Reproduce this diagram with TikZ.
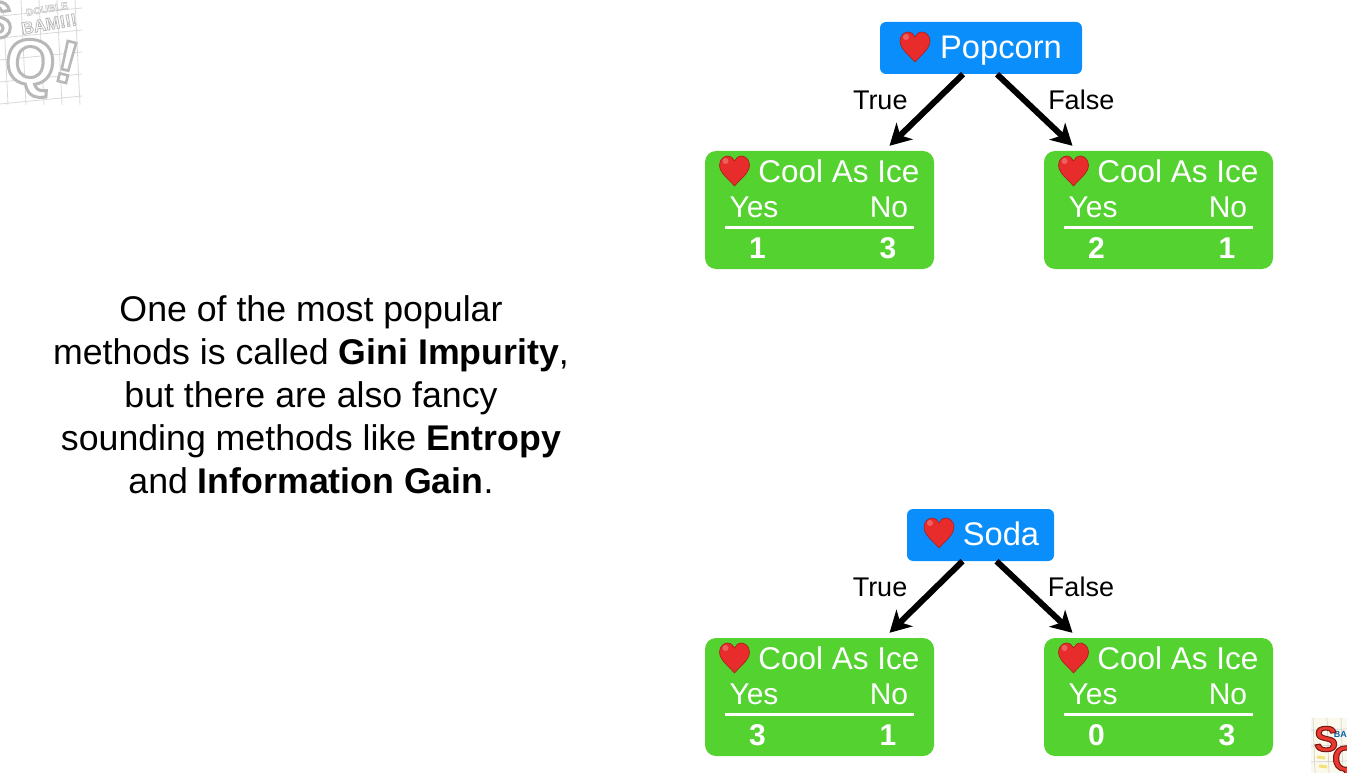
\documentclass[tikz,border=0pt]{standalone}
\usepackage{fontspec}
\setmainfont{Liberation Sans}
\usetikzlibrary{positioning}
\usetikzlibrary{calc}
\usetikzlibrary{arrows.meta}
\definecolor{rootblue}{RGB}{10,142,252}
\definecolor{leafgreen}{RGB}{84,210,48}
\definecolor{heartred}{RGB}{232,44,44}
\definecolor{logogray}{RGB}{190,190,190}
\definecolor{logopaper}{RGB}{250,249,236}
\definecolor{logored}{RGB}{236,56,46}
\definecolor{logoyellow}{RGB}{244,226,120}
\tikzset{
    rootbox/.style={fill=rootblue, rounded corners=6pt, minimum height=52pt, inner sep=0pt},
    leafbox/.style={fill=leafgreen, rounded corners=11pt, minimum width=229pt, minimum height=118pt, inner sep=0pt},
    roottext/.style={text=white, font=\fontsize{32.7}{33}\selectfont, inner sep=0pt},
    leaftext/.style={text=white, font=\fontsize{30}{30}\selectfont, inner sep=0pt},
    leaftitle/.style={text=white, font=\fontsize{31.5}{31.5}\selectfont, inner sep=0pt},
    leafnum/.style={text=white, font=\fontsize{30}{30}\selectfont\bfseries, inner sep=0pt},
    branch/.style={-{Stealth[length=21pt, width=23pt, inset=6pt]}, line width=6pt, black},
    branchtext/.style={font=\fontsize{27}{27}\selectfont, inner sep=0pt},
    logotext/.style={text=white, inner sep=0pt},
    heartmark/.pic={
        \fill[heartred, draw=heartred!70!black, line width=0.6pt]
            (0,15) .. controls (-6,8) and (-15,2) .. (-15,-6)
            .. controls (-15,-12) and (-10,-15) .. (-7,-15)
            .. controls (-3.5,-15) and (-1,-12.5) .. (0,-10)
            .. controls (1,-12.5) and (3.5,-15) .. (7,-15)
            .. controls (10,-15) and (15,-12) .. (15,-6)
            .. controls (15,2) and (6,8) .. (0,15) -- cycle;
        \fill[white, opacity=0.25] (-9,-10) circle (3);
    }
}
% leaf: name, centre, left count, right count
\newcommand*{\LeafBox}[4]{
    \node[leafbox] (#1) at (#2) {};
    \pic at ($(#1.center)+(-85,-39)$) {heartmark};
    \node[leaftitle] (#1title) at ($(#1.center)+(19.5,-39)$) {Cool As Ice};
    \node[leaftext] (#1yes) at ($(#1.center)+(-65.5,-3)$) {Yes};
    \node[leaftext] (#1no) at ($(#1.center)+(69.5,-3)$) {No};
    \draw[white, line width=3pt] ($(#1.center)+(-95,17)$) -- ($(#1.center)+(94,17)$);
    \node[leafnum] (#1left) at ($(#1.center)+(-62,38)$) {#3};
    \node[leafnum] (#1right) at ($(#1.center)+(68.5,38)$) {#4};
}
% outlined comic lettering: stroke width, stroke grey/rgb
\newcommand*{\StrokeText}[2]{\special{pdf:code 2 Tr #1 w #2 RG}}

\begin{document}
\begin{tikzpicture}[x=1pt, y=-1pt]
\useasboundingbox (0,0) rectangle (1347,773);

% Explanation
\node[align=center, inner sep=0pt, font=\fontsize{35.7}{43}\selectfont] (blurb) at (311,394.5) {One of the most popular\\
methods is called \textbf{Gini Impurity},\\
but there are also fancy\\
sounding methods like \textbf{Entropy}\\
and \textbf{Information Gain}.};

% Top tree
\node[rootbox, minimum width=202pt] (popcorn) at (981,48) {};
\pic at (915,47) {heartmark};
\node[roottext] (popcorntext) at (1001,51) {Popcorn};
\LeafBox{popleft}{819.5,210}{1}{3}
\LeafBox{popright}{1158.5,210}{2}{1}
\draw[branch] ($(popcorn.south)+(-18,0)$) -- ($(popleft.north)+(70,-5)$)
    node[midway, branchtext, xshift=-46pt, yshift=10pt] (poptrue) {True};
\draw[branch] ($(popcorn.south)+(16,0)$) -- ($(popright.north)+(-86,-5)$)
    node[midway, branchtext, xshift=46.5pt, yshift=10pt] (popfalse) {False};

% Bottom tree
\node[rootbox, minimum width=147pt] (soda) at (980.5,535) {};
\pic at (939,533) {heartmark};
\node[roottext] (sodatext) at (1001,534) {Soda};
\LeafBox{sodaleft}{819.5,697}{3}{1}
\LeafBox{sodaright}{1158.5,697}{0}{3}
\draw[branch] ($(soda.south)+(-18,0)$) -- ($(sodaleft.north)+(70,-5)$)
    node[midway, branchtext, xshift=-46pt, yshift=10pt] (sodatrue) {True};
\draw[branch] ($(soda.south)+(16,0)$) -- ($(sodaright.north)+(-86,-5)$)
    node[midway, branchtext, xshift=46.5pt, yshift=10pt] (sodafalse) {False};

% Corner logo, top left
\foreach \i in {0,...,4} {
    \draw[logogray!60, line width=0.8pt] (\i*18+3,0) -- (\i*18+8,105);
    \draw[logogray!60, line width=0.8pt] (0,\i*22+16) -- (82,\i*22+8);
}
\node[logotext, rotate=10, font=\fontsize{10}{10}\selectfont\bfseries] (logodouble) at (47,9) {\StrokeText{0.5}{0.75 0.75 0.75}DOUBLE};
\node[logotext, rotate=10, font=\fontsize{17}{17}\selectfont\bfseries] (logobam) at (49,24) {\StrokeText{0.8}{0.72 0.72 0.72}BAM!!!};
\node[logotext, rotate=-4, font=\fontsize{64}{64}\selectfont\bfseries] (logoq) at (30,68) {\StrokeText{3}{0.72 0.72 0.72}Q};
\node[logotext, rotate=-14, font=\fontsize{60}{60}\selectfont\bfseries] (logobang) at (67,62) {\StrokeText{2.6}{0.72 0.72 0.72}!};
\node[logotext, font=\fontsize{52}{52}\selectfont\bfseries] (logos) at (-5,20) {\StrokeText{3}{0.72 0.72 0.72}S};

% Corner logo, bottom right
\fill[logopaper] (1311,718) rectangle (1347,773);
\foreach \i in {0,...,2} {
    \draw[logogray!70, line width=0.7pt] (1313+\i*14,718) -- (1315+\i*14,773);
    \draw[logogray!70, line width=0.7pt] (1311,730+\i*16) -- (1347,729+\i*16);
}
\draw[logoyellow, line width=3pt] (1317,757) -- (1325,758);
\draw[logoyellow, line width=3pt] (1319,766) -- (1327,767);
\node[text=rootblue!70!black, inner sep=0pt, font=\fontsize{9}{9}\selectfont\bfseries] (logobamsmall) at (1344,734) {BAM};
\node[text=logored, inner sep=0pt, font=\fontsize{36}{36}\selectfont\bfseries] (logored) at (1326,739) {\StrokeText{1}{0.45 0.1 0.08}S};
\node[text=logored, inner sep=0pt, font=\fontsize{36}{36}\selectfont\bfseries] (logoredq) at (1346,762) {\StrokeText{1}{0.45 0.1 0.08}Q};
\end{tikzpicture}
\end{document}
